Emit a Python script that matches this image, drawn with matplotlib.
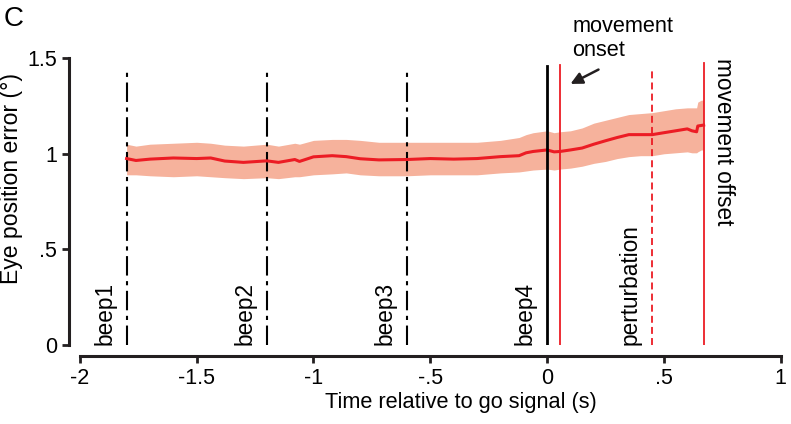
#eye position error around the go signal

import matplotlib
matplotlib.use("Agg")
import matplotlib.pyplot as plt
import numpy as np

plt.rcParams['font.family'] = ['Liberation Sans', 'DejaVu Sans']
plt.rcParams['lines.scale_dashes'] = False

# mean error trace and its band (deg), time in s relative to go signal
time = [-1.8, -1.76, -1.7, -1.6, -1.5, -1.44, -1.38, -1.3, -1.2, -1.15, -1.08,
        -1.06, -1.0, -0.92, -0.86, -0.8, -0.72, -0.6, -0.5, -0.4, -0.3, -0.2,
        -0.12, -0.09, -0.06, 0.0, 0.03, 0.055, 0.1, 0.15, 0.2, 0.25, 0.3,
        0.35, 0.4, 0.45, 0.5, 0.55, 0.6, 0.62, 0.64, 0.645, 0.66, 0.67]
mean = [0.975, 0.965, 0.972, 0.978, 0.975, 0.978, 0.962, 0.955, 0.963, 0.955,
        0.97, 0.96, 0.984, 0.99, 0.985, 0.974, 0.968, 0.97, 0.975, 0.972,
        0.975, 0.985, 0.99, 1.005, 1.012, 1.02, 1.01, 1.012, 1.02, 1.03,
        1.05, 1.068, 1.085, 1.1, 1.1, 1.1, 1.11, 1.12, 1.13, 1.12, 1.115,
        1.145, 1.148, 1.15]
lower = [0.89, 0.89, 0.885, 0.88, 0.885, 0.88, 0.875, 0.87, 0.875, 0.87,
         0.88, 0.88, 0.89, 0.895, 0.9, 0.89, 0.885, 0.885, 0.89, 0.89,
         0.89, 0.9, 0.905, 0.91, 0.915, 0.92, 0.915, 0.92, 0.925, 0.935,
         0.95, 0.96, 0.975, 0.985, 0.99, 0.99, 1.0, 1.005, 1.01, 1.005,
         1.005, 1.01, 1.02, 1.02]
upper = [1.05, 1.04, 1.05, 1.055, 1.06, 1.055, 1.045, 1.04, 1.05, 1.04,
         1.055, 1.05, 1.07, 1.075, 1.075, 1.07, 1.06, 1.06, 1.06, 1.06,
         1.06, 1.07, 1.085, 1.1, 1.11, 1.12, 1.11, 1.115, 1.12, 1.135,
         1.16, 1.175, 1.19, 1.205, 1.21, 1.215, 1.225, 1.235, 1.24, 1.24,
         1.24, 1.27, 1.28, 1.28]

beeps = [-1.8, -1.2, -0.6]
beep_labels = ['beep1', 'beep2', 'beep3']
go_time = 0.0
onset_time = 0.055
perturb_time = 0.45
offset_time = 0.67

xticks = [-2, -1.5, -1, -0.5, 0, 0.5, 1]
xticklabels = ['-2', '-1.5', '-1', '-.5', '0', '.5', '1']
yticks = [0, 0.5, 1, 1.5]
yticklabels = ['0', '.5', '1', '1.5']

red = '#ec1c24'
band = '#f6b29c'
ink = '#231f20'
hsize = 15.7   # horizontal text
vsize = 16.3   # rotated text

fig = plt.figure(figsize=(7.91, 4.24), dpi=100)
ax = fig.add_axes([0.101, 0.186, 0.886, 0.677])

ax.fill_between(time, lower, upper, color=band, lw=0, zorder=1)
ax.plot(time, mean, color=red, lw=2.2, zorder=3)

for b, lab in zip(beeps, beep_labels):
    ax.plot([b, b], [0, 1.45], color='k', lw=1.5,
            linestyle=(0, (14, 4, 3, 4)), zorder=2)
    ax.text(b - 0.045, 0.0, lab, rotation=90, ha='right', va='bottom',
            fontsize=vsize)
ax.plot([go_time, go_time], [0, 1.46], color='k', lw=2, zorder=4)
ax.text(go_time - 0.045, 0.0, 'beep4', rotation=90, ha='right',
        va='bottom', fontsize=vsize)

ax.plot([onset_time, onset_time], [-0.01, 1.466], color=red, lw=1.3, zorder=4)
ax.plot([perturb_time, perturb_time], [0, 1.445], color=red, lw=1.3,
        linestyle=(0, (5, 3)), zorder=4)
ax.text(perturb_time - 0.045, 0.0, 'perturbation', rotation=90, ha='right',
        va='bottom', fontsize=vsize)
ax.plot([offset_time, offset_time], [0, 1.476], color=red, lw=1.3, zorder=4)
ax.text(offset_time + 0.035, 1.5, 'movement offset', rotation=-90,
        ha='left', va='top', fontsize=vsize)

ax.text(0.107, 1.487, 'movement\nonset', ha='left', va='bottom',
        fontsize=hsize, linespacing=1.15, clip_on=False)
ax.annotate('', xy=(0.1, 1.365), xytext=(0.22, 1.44),
            arrowprops=dict(arrowstyle='-|>,head_length=0.7,head_width=0.35',
                            color=ink, lw=1.8, shrinkA=0, shrinkB=0),
            annotation_clip=False)

ax.set_xlim(-2, 1)
ax.set_ylim(0, 1.5)
ax.set_xticks(xticks)
ax.set_xticklabels(xticklabels)
ax.set_yticks(yticks)
ax.set_yticklabels(yticklabels)
ax.tick_params(labelsize=15.5, width=2, length=5, color=ink)
for s in ['top', 'right']:
    ax.spines[s].set_visible(False)
for s in ['left', 'bottom']:
    ax.spines[s].set_linewidth(2.2)
    ax.spines[s].set_color(ink)
    ax.spines[s].set_position(('outward', 8))
ax.set_xlabel('Time relative to go signal (s)', fontsize=hsize, va='top')
ax.set_ylabel('Eye position error (°)', fontsize=vsize + 0.3)
ax.xaxis.set_label_coords(0.544, -0.165)
ax.yaxis.set_label_coords(-0.081, 0.582)

fig.text(0.005, 0.985, 'C', fontsize=20, ha='left', va='top')

fig.savefig('out.png', dpi=100)
